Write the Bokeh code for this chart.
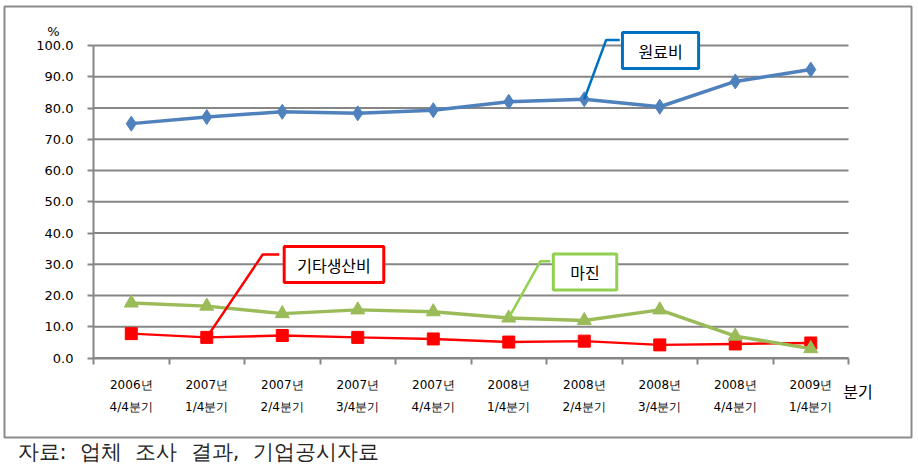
from bokeh.plotting import figure
from bokeh.models import FixedTicker, LinearAxis, Label, Range1d, PrintfTickFormatter, Title
from bokeh.embed import file_html
from bokeh.resources import INLINE

# ---- data ----
year_labels = ["2006년", "2007년", "2007년", "2007년", "2007년",
               "2008년", "2008년", "2008년", "2008년", "2009년"]
quarter_labels = ["4/4분기", "1/4분기", "2/4분기", "3/4분기", "4/4분기",
                  "1/4분기", "2/4분기", "3/4분기", "4/4분기", "1/4분기"]
raw_material = [75.0, 77.1, 78.8, 78.3, 79.3, 82.0, 82.8, 80.4, 88.5, 92.3]   # 원료비
other_cost = [7.8, 6.6, 7.2, 6.6, 6.1, 5.1, 5.4, 4.2, 4.5, 4.8]              # 기타생산비
margin = [17.6, 16.6, 14.2, 15.4, 14.8, 12.8, 12.0, 15.4, 7.0, 3.0]          # 마진
y_ticks = [0, 10, 20, 30, 40, 50, 60, 70, 80, 90, 100]

n = len(year_labels)
xs = [i + 0.5 for i in range(n)]
bounds_x = list(range(n + 1))

GRID = "#868686"
BLUE, RED, GREEN = "#4F81BD", "#FF0000", "#9BBB59"

# The plot frame is the bordered chart box; the axes sit inside it at fixed locations.
p = figure(frame_width=907, frame_height=431,
           x_range=Range1d(-1.179, 10.834), y_range=Range1d(-25.44, 112.48),
           output_backend="svg", toolbar_location=None,
           min_border_left=4, min_border_right=7, min_border_top=6, min_border_bottom=24)
p.outline_line_color = "#8c8c8c"
p.outline_line_width = 2
p.background_fill_color = "white"
p.border_fill_color = "white"
p.xgrid.visible = False
p.ygrid.visible = False

# horizontal gridlines at the y ticks, spanning the category band
p.segment(x0=[0] * len(y_ticks), x1=[n] * len(y_ticks), y0=y_ticks, y1=y_ticks,
          line_color=GRID, line_width=1.8)

# y axis
ya = p.yaxis[0]
ya.fixed_location = 0
ya.ticker = FixedTicker(ticks=y_ticks)
ya.bounds = (0, 100)
ya.formatter = PrintfTickFormatter(format="%.1f")
ya.axis_line_color = GRID
ya.axis_line_width = 2
ya.major_tick_line_color = GRID
ya.major_tick_line_width = 2
ya.major_tick_out = 6
ya.major_tick_in = 0
ya.minor_tick_line_color = None
ya.major_label_standoff = 14
ya.major_label_text_font = "DejaVu Sans"
ya.major_label_text_font_size = "13px"
ya.major_label_text_color = "#000000"

# x axis (year line)
ax1 = p.xaxis[0]
ax1.fixed_location = 0
ax1.bounds = (0, n)
ax1.ticker = FixedTicker(ticks=xs, minor_ticks=bounds_x)
ax1.major_label_overrides = {x: t for x, t in zip(xs, year_labels)}
ax1.axis_line_color = GRID
ax1.axis_line_width = 2
ax1.major_tick_line_color = None
ax1.major_tick_out = 0
ax1.major_tick_in = 0
ax1.minor_tick_line_color = GRID
ax1.minor_tick_line_width = 2
ax1.minor_tick_out = 6
ax1.minor_tick_in = 0
ax1.major_label_standoff = 14
ax1.major_label_text_font = "DejaVu Sans"
ax1.major_label_text_font_size = "12px"
ax1.major_label_text_color = "#000000"

# x axis (quarter line)
ax2 = LinearAxis(ticker=FixedTicker(ticks=xs, minor_ticks=[]), fixed_location=0, bounds=(0, n),
                 major_label_overrides={x: t for x, t in zip(xs, quarter_labels)})
ax2.axis_line_color = None
ax2.major_tick_line_color = None
ax2.minor_tick_line_color = None
ax2.major_tick_out = 0
ax2.major_tick_in = 0
ax2.major_label_standoff = 42
ax2.major_label_text_font = "DejaVu Sans"
ax2.major_label_text_font_size = "12px"
ax2.major_label_text_color = "#000000"
p.add_layout(ax2, "below")

# series
p.line(xs, raw_material, line_color=BLUE, line_width=3.5)
p.scatter(xs, raw_material, marker="diamond", size=15, color=BLUE)
p.line(xs, other_cost, line_color=RED, line_width=2.5)
p.scatter(xs, other_cost, marker="square", size=12, color=RED)
p.line(xs, margin, line_color=GREEN, line_width=3.5)
p.scatter(xs, margin, marker="triangle", size=14, color=GREEN)

# callout leaders
p.line([xs[6], 6.79, 6.97], [raw_material[6], 101.8, 101.8], line_color="#0070C0", line_width=2.5)
p.line([xs[1], 2.24, 2.46], [other_cost[1], 33.1, 33.1], line_color="#FF0000", line_width=2.5)
p.line([xs[5], 5.92, 6.05], [margin[5], 31.0, 31.0], line_color="#92D050", line_width=2.5)

def callout(x, y, text, color, padx):
    p.add_layout(Label(x=x, y=y, text=text, text_align="center", text_baseline="middle",
                       text_font="Noto Sans CJK KR", text_font_size="16px", text_color="#000000",
                       background_fill_color="white", border_line_color=color, border_line_width=3,
                       padding=dict(left=padx, right=padx, top=6, bottom=6)))

callout(7.51, 98.4, "원료비", "#0070C0", 16)
callout(3.185, 29.9, "기타생산비", "#FF0000", 13)
callout(6.51, 27.5, "마진", "#92D050", 17)

# unit labels
p.add_layout(Label(x=-0.53, y=104.6, text="%", text_align="center", text_baseline="middle",
                   text_font="DejaVu Sans", text_font_size="13px", text_color="#000000"))
p.add_layout(Label(x=9.93, y=-10.7, text="분기", text_align="left", text_baseline="middle",
                   text_font="Noto Sans CJK KR", text_font_size="16px", text_color="#000000"))

# source note below the chart box
NB = "\u00a0"
src_text = "자료:" + NB * 2 + "업체" + NB * 2 + "조사" + NB * 2 + "결과," + NB * 2 + "기업공시자료"
p.add_layout(Title(text=src_text, align="left", offset=13,
                   text_font="DejaVu Sans", text_font_size="21px", text_font_style="normal",
                   text_color="#262626", standoff=0), "below")

open("out.html", "w").write(file_html(p, INLINE))
